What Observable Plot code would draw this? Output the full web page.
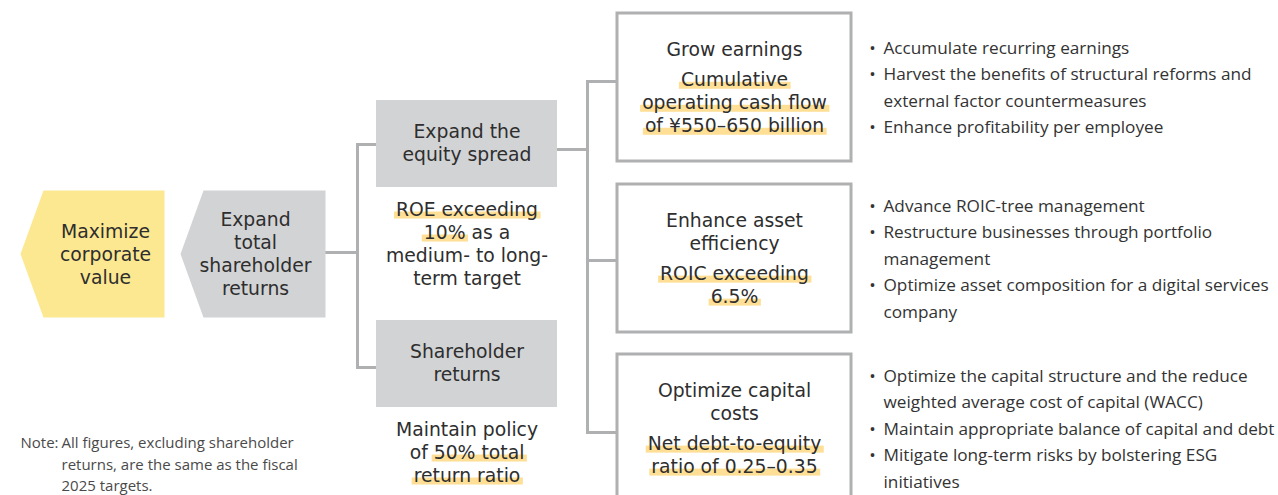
<!DOCTYPE html>
<html><head><meta charset="utf-8">
<script src="https://cdn.jsdelivr.net/npm/d3@7"></script>
<script src="https://cdn.jsdelivr.net/npm/@observablehq/plot@0.6"></script>
<style>html,body{margin:0;padding:0;background:#fff;} #chart{width:1278px;height:495px;overflow:hidden}</style>
</head><body><div id="chart"></div>
<script>
// ---------------- data (texts of the value tree) ----------------
const goalText = ["Maximize", "corporate", "value"];
const strategyText = ["Expand", "total", "shareholder", "returns"];
const driverTitles = [["Expand the", "equity spread"], ["Shareholder", "returns"]];
const driverTargets = [["[ROE exceeding]", "[10%] as a", "medium- to long-", "term target"], ["Maintain policy", "of [50% total]", "[return ratio]"]];
const leverTitles = [["Grow earnings"], ["Enhance asset", "efficiency"], ["Optimize capital", "costs"]];
const leverTargets = [["[Cumulative]", "[operating cash flow]", "[of ¥550–650 billion]"], ["[ROIC exceeding]", "[6.5%]"], ["[Net debt-to-equity]", "[ratio of 0.25–0.35]"]];
const leverActions = [
  [["Accumulate recurring earnings"], ["Harvest the benefits of structural reforms and", "external factor countermeasures"], ["Enhance profitability per employee"]],
  [["Advance ROIC-tree management"], ["Restructure businesses through portfolio", "management"], ["Optimize asset composition for a digital services", "company"]],
  [["Optimize the capital structure and the reduce", "weighted average cost of capital (WACC)"], ["Maintain appropriate balance of capital and debt"], ["Mitigate long-term risks by bolstering ESG", "initiatives"]]
];
const noteLabel = "Note:";
const noteLines = ["All figures, excluding shareholder", "returns, are the same as the fiscal", "2025 targets."];

// ---------------- layout & style ----------------
const W = 1278, H = 495;
const FONT_M = "'DejaVu Sans', sans-serif";   // box texts
const FONT = "'Open Sans', sans-serif";        // bullets & note
const FS = 18.8, FS_B = 17.2, FS_N = 15;
const INK = "#2e2e2e", INK_B = "#333333", INK_N = "#4a4a4a";
const C_GOAL = "#fce891", C_GRAY = "#d2d3d5", C_HL = "#fedf95", C_LINE = "#afb0b2";
const L = {
  goal: {x0: 20, x1: 164, notch: 23, y0: 190, y1: 317, cx: 105},
  strategy: {x0: 180, x1: 325, notch: 23, cx: 255},
  driver: {x0: 376, x1: 557, tops: [100, 320], h: 87, inY: [144, 367], outY: 149},
  trunk1: 357, trunk2: 587,
  lever: {x0: 617, x1: 851, tops: [13, 184, 354], h: 148, inY: [81, 260, 432]},
  bullet: {x: 872, tx: 883, lh: 26.5},
  lh: 22.7, tlh: 23, gap: 29.5,
  note: {x: 20, tx: 61, y: 443, lh: 21.5}
};

const ctx = document.createElement("canvas").getContext("2d");
function measure(t, fs, font) { ctx.font = `${fs}px ${font}`; return ctx.measureText(t).width; }

const blocks = [];     // one multi-line text per block: {x, y(last baseline), text, anchor, fs, fill, lh, font}
const highlights = []; // {x1, x2, y1, y2}
function parse(line) {
  const segs = []; const re = /\[([^\]]*)\]|([^\[]+)/g; let m;
  while ((m = re.exec(line))) segs.push(m[1] !== undefined ? {t: m[1], hl: true} : {t: m[2], hl: false});
  return segs;
}
// lines: marked-up lines; yFirst: visual centre of first line; lh: line spacing (px)
function addBlock(lines, x, yFirst, lh, fs, fill, font, anchor = "middle") {
  const plain = [];
  lines.forEach((line, i) => {
    const segs = parse(line);
    const full = segs.map(s => s.t).join("");
    plain.push(full);
    const base = yFirst + i * lh + 0.32 * fs;
    let cur = anchor === "middle" ? x - measure(full, fs, font) / 2 : x;
    for (const s of segs) {
      const sw = measure(s.t, fs, font);
      if (s.hl) highlights.push({x1: cur - 1.5, x2: cur + sw + 3, y1: base - 3.5, y2: base + 3.5});
      cur += sw;
    }
  });
  const lastBase = yFirst + (lines.length - 1) * lh + 0.32 * fs;
  blocks.push({x, y: lastBase, text: plain.join("\n"), anchor, fs, fill, lh, font});
}
function addCentered(lines, x, yCenter, lh) {
  addBlock(lines, x, yCenter - (lines.length - 1) * lh / 2, lh, FS, INK, FONT_M);
}

// goal & strategy pentagons
const yMid = (L.goal.y0 + L.goal.y1) / 2;
function pentagon(x0, x1, notch) {
  return [[x0 + notch, L.goal.y0], [x1, L.goal.y0], [x1, L.goal.y1], [x0 + notch, L.goal.y1], [x0, yMid]];
}
const goalPoly = pentagon(L.goal.x0, L.goal.x1, L.goal.notch);
const stratPoly = pentagon(L.strategy.x0, L.strategy.x1, L.strategy.notch);
addCentered(goalText, L.goal.cx, yMid + 1, L.lh);
addCentered(strategyText, L.strategy.cx, yMid + 0.5, L.lh);

// drivers
const dcx = (L.driver.x0 + L.driver.x1) / 2;
const driverBoxes = L.driver.tops.map(t => ({x1: L.driver.x0, x2: L.driver.x1, y1: t, y2: t + L.driver.h}));
driverTitles.forEach((lines, i) => addCentered(lines, dcx, L.driver.tops[i] + 43, L.lh));
driverTargets.forEach((lines, i) => addBlock(lines, dcx, L.driver.tops[i] + L.driver.h + 22, L.tlh, FS, INK, FONT_M));

// levers
const lcx = (L.lever.x0 + L.lever.x1) / 2;
const leverBoxes = L.lever.tops.map(t => ({x1: L.lever.x0, x2: L.lever.x1, y1: t, y2: t + L.lever.h}));
leverTitles.forEach((title, i) => {
  const tgt = leverTargets[i];
  const span = (title.length - 1) * L.lh + L.gap + (tgt.length - 1) * L.tlh;
  const y0 = L.lever.tops[i] + L.lever.h / 2 + 0.5 - span / 2;
  addBlock(title, lcx, y0, L.lh, FS, INK, FONT_M);
  addBlock(tgt, lcx, y0 + (title.length - 1) * L.lh + L.gap, L.tlh, FS, INK, FONT_M);
});

// bullets
const bullets = [];
leverActions.forEach((items, i) => {
  const n = items.reduce((a, b) => a + b.length, 0);
  let y = L.lever.tops[i] + L.lever.h / 2 + 0.5 - (n - 1) * L.bullet.lh / 2;
  items.forEach(item => {
    bullets.push({x: L.bullet.x, y: y + 0.32 * FS_B, text: "•", anchor: "middle", fs: FS_B, fill: INK_B, lh: L.bullet.lh, font: FONT});
    addBlock(item, L.bullet.tx, y, L.bullet.lh, FS_B, INK_B, FONT, "start");
    y += item.length * L.bullet.lh;
  });
});

// note
addBlock([noteLabel], L.note.x, L.note.y, L.note.lh, FS_N, INK_N, FONT, "start");
addBlock(noteLines, L.note.tx, L.note.y, L.note.lh, FS_N, INK_N, FONT, "start");

// connectors
const links = [
  {x1: L.strategy.x1, y1: yMid - 1.5, x2: L.trunk1, y2: yMid - 1.5},
  {x1: L.trunk1, y1: L.driver.inY[0], x2: L.trunk1, y2: L.driver.inY[1]},
  ...L.driver.inY.map(y => ({x1: L.trunk1, y1: y, x2: L.driver.x0, y2: y})),
  {x1: L.driver.x1, y1: L.driver.outY, x2: L.trunk2, y2: L.driver.outY},
  {x1: L.trunk2, y1: L.lever.inY[0], x2: L.trunk2, y2: L.lever.inY[2]},
  ...L.lever.inY.map(y => ({x1: L.trunk2, y1: y, x2: L.lever.x0, y2: y}))
];

const groups = d3.groups([...blocks, ...bullets], d => `${d.fs}|${d.fill}|${d.anchor}|${d.lh}|${d.font}`);

const chart = Plot.plot({
  width: W, height: H, margin: 0,
  x: {domain: [0, W], range: [0, W], axis: null},
  y: {domain: [0, H], range: [0, H], axis: null},
  style: {background: "white", fontFamily: FONT, overflow: "hidden"},
  marks: [
    Plot.link(links, {x1: "x1", y1: "y1", x2: "x2", y2: "y2", stroke: C_LINE, strokeWidth: 3, strokeLinecap: "square"}),
    Plot.line(goalPoly, {x: d => d[0], y: d => d[1], fill: C_GOAL, stroke: "none"}),
    Plot.line(stratPoly, {x: d => d[0], y: d => d[1], fill: C_GRAY, stroke: "none"}),
    Plot.rect(driverBoxes, {x1: "x1", x2: "x2", y1: "y1", y2: "y2", fill: C_GRAY}),
    Plot.rect(leverBoxes, {x1: "x1", x2: "x2", y1: "y1", y2: "y2", fill: "white", stroke: C_LINE, strokeWidth: 3}),
    Plot.rect(highlights, {x1: "x1", x2: "x2", y1: "y1", y2: "y2", fill: C_HL}),
    ...groups.map(([k, g]) => Plot.text(g, {
      x: "x", y: "y", text: "text", textAnchor: g[0].anchor, lineAnchor: "bottom",
      lineHeight: g[0].lh / g[0].fs, fontSize: g[0].fs, fill: g[0].fill, fontFamily: g[0].font
    }))
  ]
});
document.getElementById("chart").append(chart);
</script>
</body></html>
